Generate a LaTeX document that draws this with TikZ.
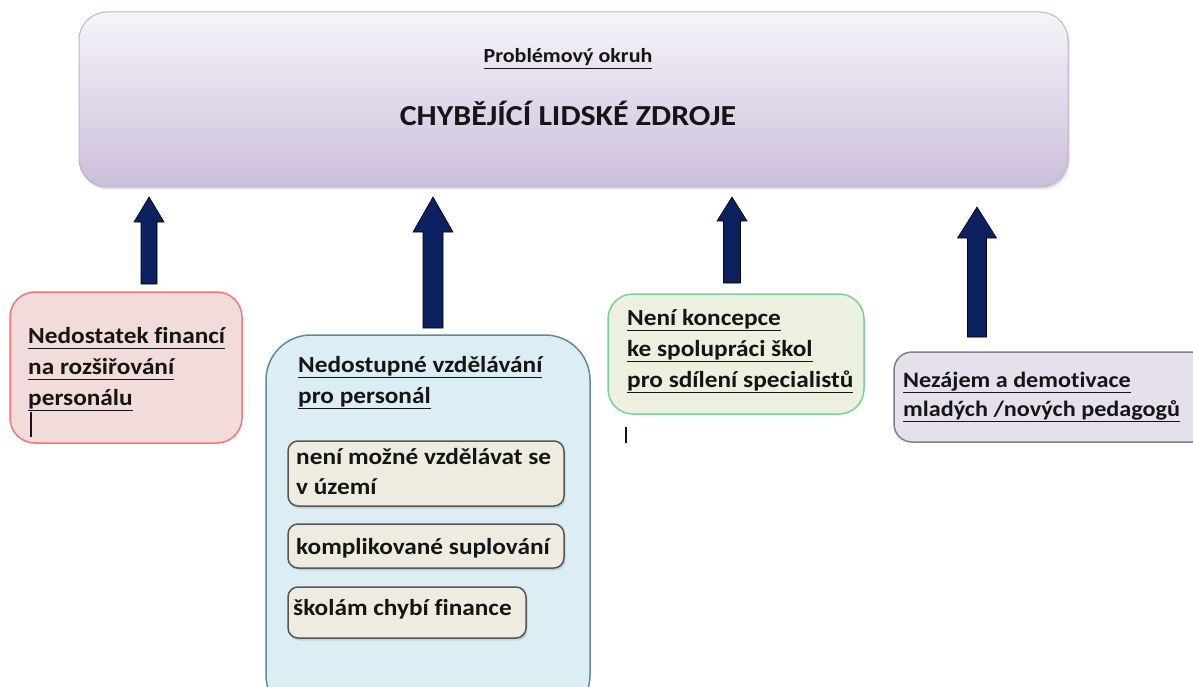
\documentclass[tikz,border=0pt]{standalone}
\usepackage{fontspec}
\setmainfont{Carlito}[FakeStretch=1.1, Ligatures={NoCommon, NoDiscretionary}]
\usetikzlibrary{shadows}
\definecolor{topTop}{HTML}{F7F4F9}
\definecolor{topBot}{HTML}{CBBEDA}
\definecolor{topLine}{HTML}{BFB2D0}
\definecolor{redFill}{HTML}{F2DCDB}
\definecolor{redLine}{HTML}{FF7171}
\definecolor{blueFill}{HTML}{DBEEF4}
\definecolor{blueLine}{HTML}{5F8A96}
\definecolor{subFill}{HTML}{EEECE1}
\definecolor{subLine}{HTML}{555555}
\definecolor{greenFill}{HTML}{EBF1DE}
\definecolor{greenLine}{HTML}{77D395}
\definecolor{lavFill}{HTML}{E6E0EC}
\definecolor{lavLine}{HTML}{7F7F85}
\definecolor{navy}{HTML}{0B2160}
\definecolor{ink}{HTML}{151515}
\newcommand\ul[1]{\smash{\underline{#1\vphantom{gp}}}}
\newcommand\lns[1]{\begin{tabular}[t]{@{}l@{}}#1\end{tabular}}
\newcommand\blockarrow[6]{%
  \filldraw[arrowfill] (#1-#5,#4) -- (#1-#5,#3) -- (#1-#6,#3) -- (#1,#2) -- (#1+#6,#3) -- (#1+#5,#3) -- (#1+#5,#4) -- cycle;}
\tikzset{
  arrowfill/.style={fill=navy, draw=black, line width=0.6pt, line join=miter},
  boxshadow/.style={drop shadow={opacity=0.25, shadow xshift=1.5pt, shadow yshift=-2.5pt}},
  txt/.style={anchor=base west, inner sep=0pt, text=ink, font=\bfseries\fontsize{23}{31}\selectfont},
  cursorbar/.style={line width=2.5pt, draw=ink},
}
\begin{document}
\begin{tikzpicture}[x=1pt,y=-1pt]
\useasboundingbox (0,0) rectangle (1193,687);
% top box
\path[boxshadow, rounded corners=28pt, top color=topTop, bottom color=topBot, draw=topLine, line width=1pt]
  (79,12) rectangle (1068,187);
\node (head) [anchor=base, inner sep=0pt, text=ink, font=\bfseries\fontsize{20}{24}\selectfont] at (568,63) {\ul{Problémový okruh}};
\node (title) [anchor=base, inner sep=0pt, text=ink, font=\bfseries\fontsize{29}{34}\selectfont] at (568,126) {CHYBĚJÍCÍ LIDSKÉ ZDROJE};
% arrows
\blockarrow{149}{197}{222}{284}{8}{15}
\blockarrow{433}{197}{232}{328}{10}{20}
\blockarrow{732}{197}{221}{283}{8.5}{15}
\blockarrow{977}{207}{238}{337}{9.5}{19.5}
% box A
\path[rounded corners=25pt, fill=redFill, draw=redLine, line width=1.5pt] (10,292) rectangle (242,443);
\node (a) [txt] at (28,343) {\lns{\ul{Nedostatek financí}\\ \ul{na rozšiřování}\\ \ul{personálu}}};
\draw[cursorbar] (31,412) -- (31,437);
% box B
\path[rounded corners=45pt, fill=blueFill, draw=blueLine, line width=1.5pt] (266,335) rectangle (590,720);
\node (b) [txt] at (298,372) {\lns{\ul{Nedostupné vzdělávání}\\ \ul{pro personál}}};
\path[boxshadow, rounded corners=10pt, fill=subFill, draw=subLine, line width=1.5pt] (288,441) rectangle (564,506);
\node (b1) [txt, font=\bfseries\fontsize{23}{30}\selectfont] at (296,464) {\lns{není možné vzdělávat se\\ v území}};
\path[boxshadow, rounded corners=10pt, fill=subFill, draw=subLine, line width=1.5pt] (288,524) rectangle (564,568);
\node (b2) [txt] at (296,554) {komplikované suplování};
\path[boxshadow, rounded corners=10pt, fill=subFill, draw=subLine, line width=1.5pt] (288,587) rectangle (526,638);
\node (b3) [txt] at (293,615) {školám chybí finance};
% box C
\path[rounded corners=25pt, fill=greenFill, draw=greenLine, line width=1.5pt] (608,294) rectangle (864,414);
\node (c) [txt] at (627,325) {\lns{\ul{Není koncepce}\\ \ul{ke spolupráci škol}\\ \ul{pro sdílení specialistů}}};
\draw[cursorbar] (626,427) -- (626,443);
% box D
\path[rounded corners=18pt, fill=lavFill, draw=lavLine, line width=1.5pt] (894,352) rectangle (1210,442);
\node (d) [txt, font=\bfseries\fontsize{22}{29}\selectfont] at (903,387) {\lns{\ul{Nezájem a demotivace}\\ \ul{mladých /nových pedagogů}}};
\end{tikzpicture}
\end{document}
